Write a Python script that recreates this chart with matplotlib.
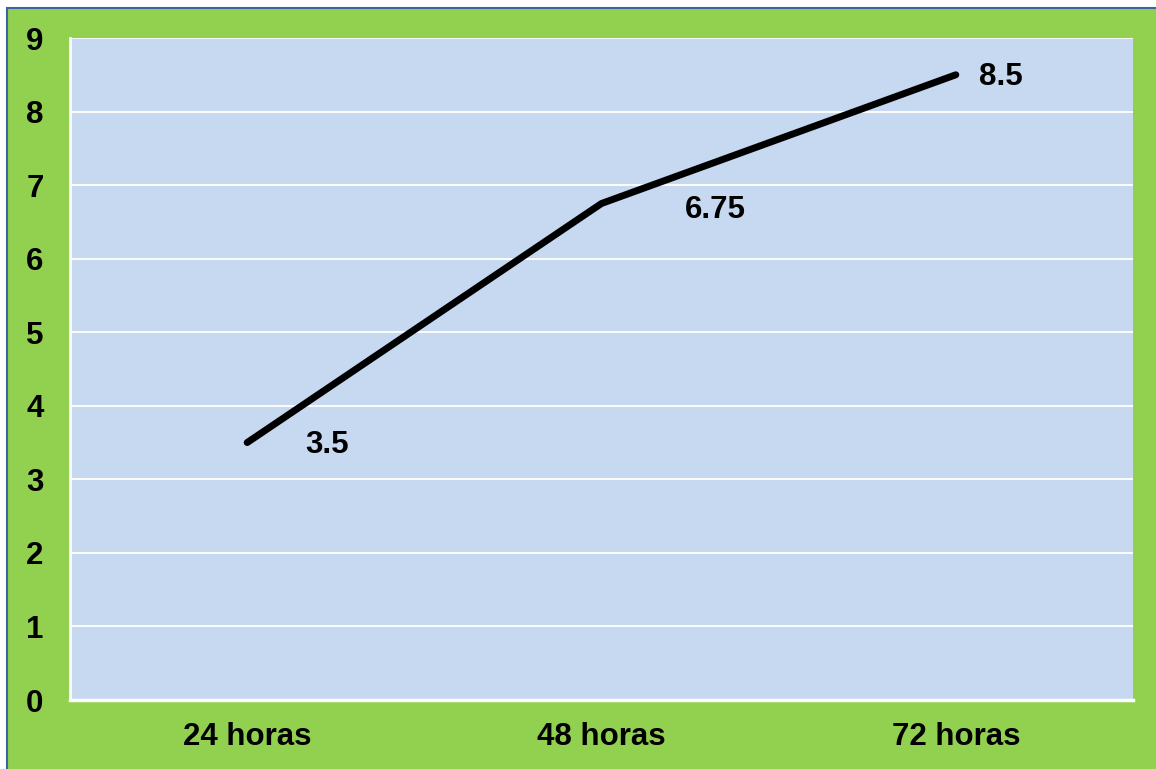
import matplotlib.pyplot as plt
from matplotlib.patches import Rectangle

categories = ['24 horas', '48 horas', '72 horas']
values = [3.5, 6.75, 8.5]
value_labels = ['3.5', '6.75', '8.5']
yticks = [0, 1, 2, 3, 4, 5, 6, 7, 8, 9]

plt.rcParams['font.family'] = ['Liberation Sans', 'DejaVu Sans']

W, H = 1156, 769
fig = plt.figure(figsize=(W / 100, H / 100), dpi=100)
fig.patch.set_facecolor('white')

# green frame with blue edge on top/left
bg = Rectangle((7 / W, -0.01), 1, 1 - 8 / H + 0.01, transform=fig.transFigure,
               facecolor='#92D050', edgecolor='#3A65A0', linewidth=1.5, zorder=-10)
fig.patches.append(bg)

ax = fig.add_axes([70 / W, 1 - 700 / H, (1133 - 70) / W, (700 - 38) / H])
ax.set_facecolor('#C6D9F1')

x = list(range(len(categories)))
ax.plot(x, values, color='black', linewidth=5, solid_capstyle='round', zorder=3)

# label offsets in pixels (dx right, dy up)
offsets = [(80, -2), (114, -6), (45, -2)]
for xi, v, lab, off in zip(x, values, value_labels, offsets):
    ax.annotate(lab, (xi, v), xytext=(off[0] * 0.72, off[1] * 0.72), textcoords='offset points',
                ha='center', va='center', fontsize=22.5, fontweight='bold', zorder=4)

ax.set_xlim(-0.5, 2.5)
ax.set_ylim(0, 9)
ax.set_yticks(yticks)
ax.set_xticks(x)
ax.set_xticklabels(categories)
ax.grid(axis='y', color='white', linewidth=1.3)
ax.set_axisbelow(True)

for s in ['top', 'right']:
    ax.spines[s].set_visible(False)
ax.spines['left'].set_color('white')
ax.spines['left'].set_linewidth(2)
ax.spines['bottom'].set_color('white')
ax.spines['bottom'].set_linewidth(2.5)

ax.tick_params(axis='both', length=0, labelsize=22.5)
ax.tick_params(axis='y', pad=19)
ax.tick_params(axis='x', pad=16)
for t in ax.get_xticklabels() + ax.get_yticklabels():
    t.set_fontweight('bold')

fig.savefig('out.png', dpi=100, facecolor=fig.get_facecolor())
